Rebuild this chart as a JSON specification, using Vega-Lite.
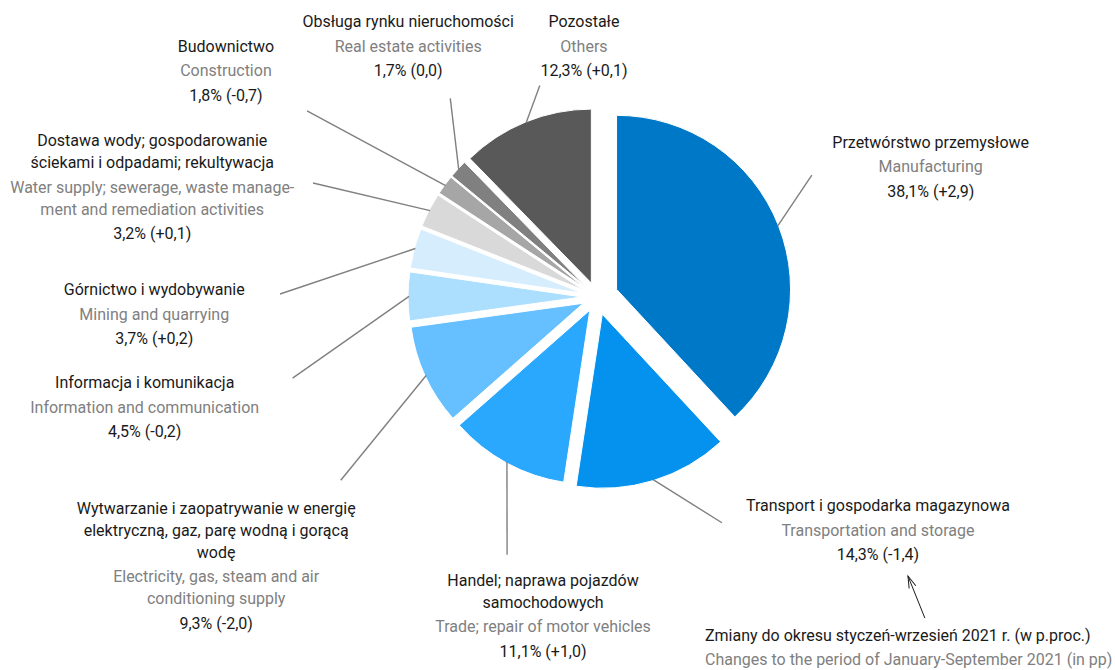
{
  "$schema": "https://vega.github.io/schema/vega-lite/v6.json",
  "width": 1036,
  "height": 594,
  "autosize": {"type": "none"},
  "padding": {"left": 79, "top": 0, "right": 0, "bottom": 76},
  "background": "white",
  "config": {"view": {"stroke": null}, "text": {"font": "Roboto", "fontSize": 16}},
  "params": [
    {"name": "lay", "value": {
      "M": [-4.5, 371, -8.15, 247, 21],
      "T": [-37.3, 345.5, -11.85, 258, 18],
      "Tr": [-17.55, 281, -9.39, 273, 15],
      "E": [-3.51, 432, -10.9, 315, 15],
      "I": [-9.97, 459, -15.1, 315, 15],
      "Mi": [-13.0, 443, -14.4, 317, 15],
      "W": [-7.13, 474, -5.49, 306, 15],
      "C": [-1.54, 452, -3.68, 344.5, 15],
      "RE": [13.6, 340, 10.9, 247, 15],
      "O": [19.5, 283, 7.0, 219, 15]
    }}
  ],
  "data": {"values": [
    {"id": "M", "pl": ["Przetwórstwo przemysłowe"], "en": ["Manufacturing"], "value": 38.1, "change": 2.9},
    {"id": "T", "pl": ["Transport i gospodarka magazynowa"], "en": ["Transportation and storage"], "value": 14.3, "change": -1.4},
    {"id": "Tr", "pl": ["Handel; naprawa pojazdów", "samochodowych"], "en": ["Trade; repair of motor vehicles"], "value": 11.1, "change": 1.0},
    {"id": "E", "pl": ["Wytwarzanie i zaopatrywanie w energię", "elektryczną, gaz, parę wodną i gorącą", "wodę"], "en": ["Electricity, gas, steam and air", "conditioning supply"], "value": 9.3, "change": -2.0},
    {"id": "I", "pl": ["Informacja i komunikacja"], "en": ["Information and communication"], "value": 4.5, "change": -0.2},
    {"id": "Mi", "pl": ["Górnictwo i wydobywanie"], "en": ["Mining and quarrying"], "value": 3.7, "change": 0.2},
    {"id": "W", "pl": ["Dostawa wody; gospodarowanie", "ściekami i odpadami; rekultywacja"], "en": ["Water supply; sewerage, waste manage-", "ment and remediation activities"], "value": 3.2, "change": 0.1},
    {"id": "C", "pl": ["Budownictwo"], "en": ["Construction"], "value": 1.8, "change": -0.7},
    {"id": "RE", "pl": ["Obsługa rynku nieruchomości"], "en": ["Real estate activities"], "value": 1.7, "change": 0.0},
    {"id": "O", "pl": ["Pozostałe"], "en": ["Others"], "value": 12.3, "change": 0.1}
  ]},
  "transform": [{"stack": "value", "groupby": [], "as": ["s", "e"]}],
  "layer": [
    {
      "mark": {
        "type": "arc",
        "radius": 174,
        "stroke": "white",
        "strokeWidth": 1,
        "xOffset": {"expr": "lay[datum.id][4]*sin((datum.s+datum.e)*PI/100)"},
        "yOffset": {"expr": "-lay[datum.id][4]*cos((datum.s+datum.e)*PI/100)"}
      },
      "encoding": {
        "theta": {"field": "s", "type": "quantitative", "scale": {"domain": [0, 100]}},
        "theta2": {"field": "e"},
        "color": {
          "field": "id", "type": "nominal", "legend": null,
          "scale": {
            "domain": ["M", "T", "Tr", "E", "I", "Mi", "W", "C", "RE", "O"],
            "range": ["#0078C8", "#0492EE", "#2AA8FE", "#66C0FF", "#ACDEFE", "#D6EDFD", "#D9D9D9", "#A6A6A6", "#808080", "#595959"]
          }
        }
      }
    },
    {
      "mark": {"type": "rule", "color": "#808080", "strokeWidth": 1.4},
      "encoding": {
        "x": {"value": {"expr": "width/2 + (173 + lay[datum.id][4])*sin((datum.s+datum.e)*PI/100)"}},
        "y": {"value": {"expr": "height/2 - (173 + lay[datum.id][4])*cos((datum.s+datum.e)*PI/100)"}},
        "x2": {"value": {"expr": "width/2 + lay[datum.id][3]*sin((datum.s+datum.e)*PI/100 + lay[datum.id][2]*PI/180)"}},
        "y2": {"value": {"expr": "height/2 - lay[datum.id][3]*cos((datum.s+datum.e)*PI/100 + lay[datum.id][2]*PI/180)"}}
      }
    },
    {
      "mark": {
        "type": "text", "align": "center", "baseline": "top", "lineHeight": 22, "color": "#1a1a1a",
        "theta": {"expr": "(datum.s+datum.e)*PI/100 + lay[datum.id][0]*PI/180"},
        "radius": {"expr": "lay[datum.id][1]"}
      },
      "encoding": {"text": {"field": "pl", "type": "nominal"}}
    },
    {
      "mark": {
        "type": "text", "align": "center", "baseline": "top", "lineHeight": 22, "color": "#808080",
        "theta": {"expr": "(datum.s+datum.e)*PI/100 + lay[datum.id][0]*PI/180"},
        "radius": {"expr": "lay[datum.id][1]"},
        "dy": {"expr": "length(datum.pl)*22 + 2.5"}
      },
      "encoding": {"text": {"field": "en", "type": "nominal"}}
    },
    {
      "mark": {
        "type": "text", "align": "center", "baseline": "top", "lineHeight": 22, "color": "#1a1a1a",
        "theta": {"expr": "(datum.s+datum.e)*PI/100 + lay[datum.id][0]*PI/180"},
        "radius": {"expr": "lay[datum.id][1]"},
        "dy": {"expr": "length(datum.pl)*22 + length(datum.en)*22 + 5"},
        "text": {"expr": "replace(format(datum.value,'.1f'),'.',',') + '% (' + (datum.change > 0 ? '+' : datum.change < 0 ? '-' : '') + replace(format(abs(datum.change),'.1f'),'.',',') + ')'"}
      }
    },
    {
      "transform": [{"filter": "datum.id == 'T'"}],
      "layer": [
        {
          "mark": {
            "type": "text", "align": "left", "baseline": "top", "color": "#1a1a1a",
            "text": "Zmiany do okresu styczeń-wrzesień 2021 r. (w p.proc.)",
            "theta": {"expr": "(datum.s+datum.e)*PI/100 - 0.97*PI/180"},
            "radius": 348.2
          }
        },
        {
          "mark": {
            "type": "text", "align": "left", "baseline": "top", "color": "#808080",
            "text": "Changes to the period of January-September 2021 (in pp)",
            "theta": {"expr": "(datum.s+datum.e)*PI/100 - 0.97*PI/180"},
            "radius": 348.2,
            "dy": 24
          }
        },
        {
          "mark": {"type": "rule", "color": "#1a1a1a", "strokeWidth": 1},
          "encoding": {
            "x": {"value": {"expr": "width/2 + 458.9*sin((datum.s+datum.e)*PI/100 - 28.5*PI/180)"}},
            "y": {"value": {"expr": "height/2 - 458.9*cos((datum.s+datum.e)*PI/100 - 28.5*PI/180)"}},
            "x2": {"value": {"expr": "width/2 + 417.8*sin((datum.s+datum.e)*PI/100 - 31.0*PI/180)"}},
            "y2": {"value": {"expr": "height/2 - 417.8*cos((datum.s+datum.e)*PI/100 - 31.0*PI/180)"}}
          }
        },
        {
          "mark": {"type": "point", "shape": "M -0.9 3 L 0 0 L 0.9 3", "filled": false, "size": 64, "angle": -22, "color": "#1a1a1a", "strokeWidth": 1, "opacity": 1},
          "encoding": {
            "x": {"value": {"expr": "width/2 + 417.8*sin((datum.s+datum.e)*PI/100 - 31.0*PI/180)"}},
            "y": {"value": {"expr": "height/2 - 417.8*cos((datum.s+datum.e)*PI/100 - 31.0*PI/180)"}}
          }
        }
      ]
    }
  ]
}
